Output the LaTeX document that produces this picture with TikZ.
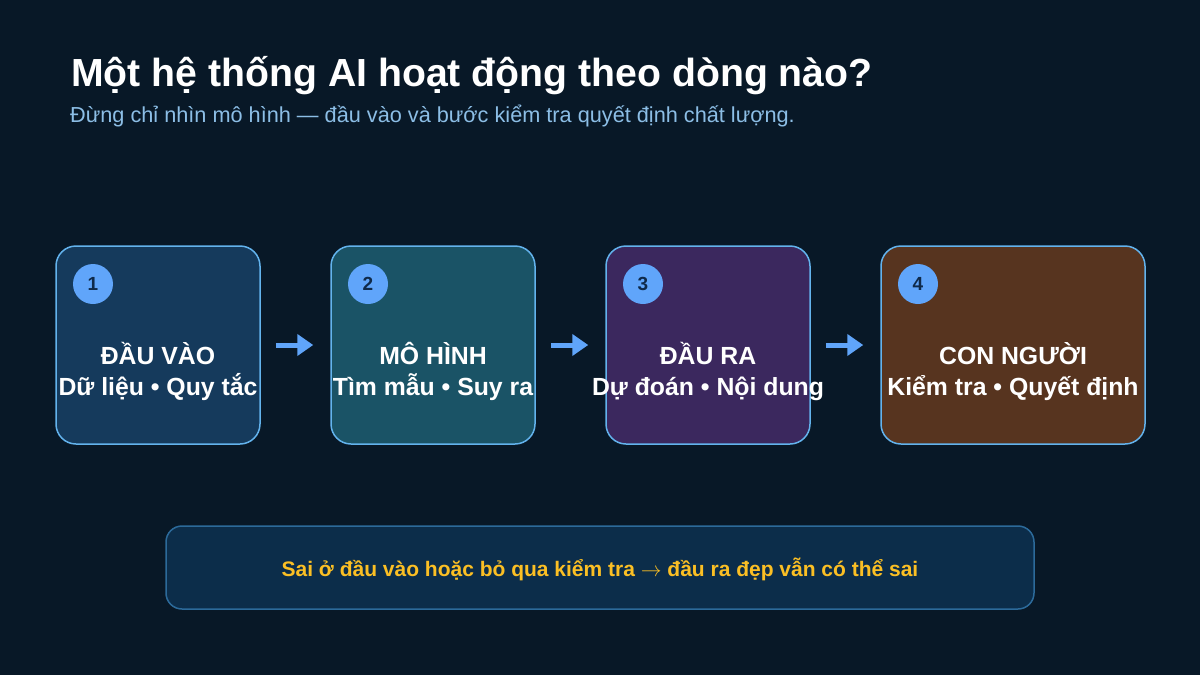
\documentclass[tikz,border=0pt]{standalone}
\usepackage{fontspec}
\setmainfont{Liberation Sans}
\usetikzlibrary{arrows.meta}

\definecolor{bgdark}{HTML}{081827}
\definecolor{edgeblue}{HTML}{63B3ED}
\definecolor{dotblue}{HTML}{60A5FA}
\definecolor{numnavy}{HTML}{0F2A4A}
\definecolor{fillinput}{HTML}{153A5C}
\definecolor{fillmodel}{HTML}{1A5366}
\definecolor{filloutput}{HTML}{3B285E}
\definecolor{fillhuman}{HTML}{57341F}
\definecolor{notefill}{HTML}{0C2D4A}
\definecolor{noteedge}{HTML}{2C6A9A}
\definecolor{noteamber}{HTML}{FBBF24}
\definecolor{subblue}{HTML}{8CBEE6}

\tikzset{
  stagebox/.style={draw=edgeblue,line width=1.5pt,rounded corners=20pt,minimum height=198pt,inner sep=0pt},
  stagenum/.style={circle,fill=dotblue,minimum size=40pt,inner sep=0pt,text=numnavy,font=\fontsize{19}{21}\selectfont\bfseries},
  stagehead/.style={anchor=base,inner sep=0pt,text=white,font=\fontsize{24.8}{28}\selectfont\bfseries},
  stagesub/.style={anchor=base,inner sep=0pt,text=white,font=\fontsize{24.8}{28}\selectfont\bfseries},
  flow/.style={-{Triangle[length=16pt,width=21pt]},draw=dotblue,line width=5pt,shorten <=15pt,shorten >=17pt},
}

\begin{document}
\begin{tikzpicture}[x=1pt,y=-1pt]
\fill[bgdark] (0,0) rectangle (1200,675);
\useasboundingbox (0,0) rectangle (1200,675);

\node[anchor=base west,inner sep=0pt,text=white,font=\fontsize{39.2}{44}\selectfont\bfseries] (title) at (71,86) {Một hệ thống AI hoạt động theo dòng nào?};
\node[anchor=base west,inner sep=0pt,text=subblue,font=\fontsize{21.7}{26}\selectfont] (subtitle) at (70,122) {Đừng chỉ nhìn mô hình — đầu vào và bước kiểm tra quyết định chất lượng.};

\node[stagebox,fill=fillinput,minimum width=204pt] (input) at (158,345) {};
\node[stagebox,fill=fillmodel,minimum width=204pt] (model) at (433,345) {};
\node[stagebox,fill=filloutput,minimum width=204pt] (output) at (708,345) {};
\node[stagebox,fill=fillhuman,minimum width=264pt] (human) at (1013,345) {};

\node[stagenum] (n1) at (93,284) {1};
\node[stagenum] (n2) at (368,284) {2};
\node[stagenum] (n3) at (643,284) {3};
\node[stagenum] (n4) at (918,284) {4};

\node[stagehead] (h1) at (158,364) {ĐẦU VÀO};
\node[stagesub] (s1) at (158,395) {Dữ liệu • Quy tắc};
\node[stagehead] (h2) at (433,364) {MÔ HÌNH};
\node[stagesub] (s2) at (433,395) {Tìm mẫu • Suy ra};
\node[stagehead] (h3) at (708,364) {ĐẦU RA};
\node[stagesub] (s3) at (708,395) {Dự đoán • Nội dung};
\node[stagehead] (h4) at (1013,364) {CON NGƯỜI};
\node[stagesub] (s4) at (1013,395) {Kiểm tra • Quyết định};

\draw[flow] (input.east) -- (model.west);
\draw[flow] (model.east) -- (output.west);
\draw[flow] (output.east) -- (human.west);

\node[draw=noteedge,fill=notefill,line width=1.5pt,rounded corners=16pt,minimum width=868pt,minimum height=83pt] (note) at (600,567.5) {};
\node[anchor=base,inner sep=0pt,text=noteamber,font=\fontsize{21}{24}\selectfont\bfseries] (notetext) at (600,576) {Sai ở đầu vào hoặc bỏ qua kiểm tra $\rightarrow$ đầu ra đẹp vẫn có thể sai};
\end{tikzpicture}
\end{document}
